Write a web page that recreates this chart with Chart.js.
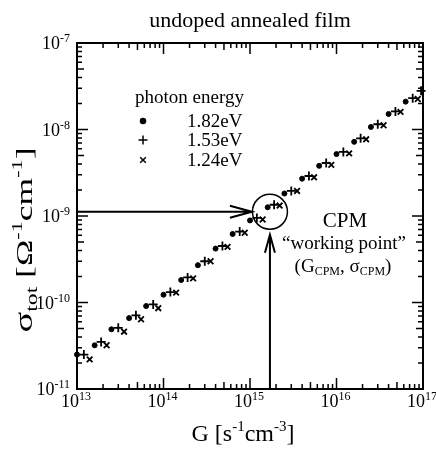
<!DOCTYPE html>
<html>
<head>
<meta charset="utf-8">
<script src="https://cdn.jsdelivr.net/npm/chart.js@4.4.0/dist/chart.umd.min.js"></script>
<style>
html,body{margin:0;padding:0;background:#fff;}
#wrap{width:436px;height:450px;}
</style>
</head>
<body>
<div id="wrap"><canvas id="myChart" width="436" height="450"></canvas></div>
<script>
// photogeneration rate G [s-1cm-3] and conductivity sigma_tot [Ohm-1cm-1], one pair of arrays per photon energy
let g182=[1.0e13,1.6e13,2.5e13,4.0e13,6.3e13,1.0e14,1.6e14,2.5e14,4.0e14,6.3e14,1.0e15,1.6e15,2.5e15,4.0e15,6.3e15,1.0e16,1.6e16,2.5e16,4.0e16,6.3e16];
let s182=[2.5e-11,3.2e-11,4.9e-11,6.6e-11,9.1e-11,1.23e-10,1.82e-10,2.7e-10,4.2e-10,6.2e-10,8.9e-10,1.26e-9,1.82e-9,2.7e-9,3.8e-9,5.2e-9,7.2e-9,1.07e-8,1.51e-8,2.1e-8];

let g153=[1.2e13,1.9e13,3.0e13,4.8e13,7.6e13,1.2e14,1.9e14,3.0e14,4.8e14,7.6e14,1.2e15,1.9e15,3.0e15,4.8e15,7.6e15,1.2e16,1.9e16,3.0e16,4.8e16,7.6e16,9.5e16];
let s153=[2.5e-11,3.5e-11,5.1e-11,7.1e-11,9.5e-11,1.32e-10,1.95e-10,3.0e-10,4.5e-10,6.6e-10,9.5e-10,1.35e-9,1.95e-9,2.9e-9,4.1e-9,5.5e-9,7.9e-9,1.15e-8,1.62e-8,2.3e-8,2.8e-8];

let g124=[1.4e13,2.2e13,3.5e13,5.5e13,8.7e13,1.4e14,2.2e14,3.5e14,5.5e14,8.7e14,1.4e15,2.2e15,3.5e15,5.5e15,8.7e15,1.4e16,2.2e16,3.5e16,5.5e16,8.7e16];
let s124=[2.2e-11,3.2e-11,4.6e-11,6.4e-11,8.6e-11,1.3e-10,1.9e-10,3.0e-10,4.4e-10,6.4e-10,9.1e-10,1.32e-9,1.95e-9,2.8e-9,3.9e-9,5.3e-9,7.7e-9,1.12e-8,1.6e-8,2.25e-8];

let energies=['1.82eV','1.53eV','1.24eV'];
let xTickExp=[13,14,15,16,17];
let yTickExp=[-11,-10,-9,-8,-7];

// CPM working point
let gCPM=1.7e15;
let sCPM=1.12e-9;

function toPoints(gs,ss){
    return gs.map(function(g,i){return {x:g,y:ss[i]};});
}

const SERIF="'Liberation Serif','Times New Roman',serif";

function measureRich(ctx,parts){
    let total=0;
    parts.forEach(function(p){ctx.font=p[1]+'px '+SERIF;total+=ctx.measureText(p[0]).width;});
    return total;
}

// draws a run of text pieces along one baseline, pieces = [text,size,dy]
function drawRich(ctx,parts,x,y,align){
    let total=measureRich(ctx,parts);
    let cx=x;
    if(align=='center') cx=x-total/2;
    if(align=='right') cx=x-total;
    ctx.textAlign='left';
    ctx.textBaseline='alphabetic';
    parts.forEach(function(p){
        ctx.font=p[1]+'px '+SERIF;
        ctx.fillText(p[0],cx,y+(p[2]||0));
        cx+=ctx.measureText(p[0]).width;
    });
}

function pow10(exp){
    return [['10',18,0],[String(exp),12,-7]];
}

let extras={
    id:'extras',
    afterDraw:function(chart){
        let ctx=chart.ctx;
        let a=chart.chartArea;
        let xs=chart.scales.x, ys=chart.scales.y;
        ctx.save();
        ctx.fillStyle='#000';
        ctx.strokeStyle='#000';

        // frame
        ctx.lineWidth=2;
        ctx.strokeRect(a.left,a.top,a.right-a.left,a.bottom-a.top);

        // inward ticks on all four sides
        ctx.lineWidth=1.5;
        for(let i=0;i<xTickExp.length;i++){
            for(let m=1;m<10;m++){
                if(i==xTickExp.length-1 && m>1) break;
                let px=xs.getPixelForValue(m*Math.pow(10,xTickExp[i]));
                let len=(m==1)?11:(m==5?7:5);
                ctx.beginPath();
                ctx.moveTo(px,a.bottom);ctx.lineTo(px,a.bottom-len);
                ctx.moveTo(px,a.top);ctx.lineTo(px,a.top+len);
                ctx.stroke();
            }
        }
        for(let i=0;i<yTickExp.length;i++){
            for(let m=1;m<10;m++){
                if(i==yTickExp.length-1 && m>1) break;
                let py=ys.getPixelForValue(m*Math.pow(10,yTickExp[i]));
                let len=(m==1)?11:(m==5?7:5);
                ctx.beginPath();
                ctx.moveTo(a.left,py);ctx.lineTo(a.left+len,py);
                ctx.moveTo(a.right,py);ctx.lineTo(a.right-len,py);
                ctx.stroke();
            }
        }

        // tick labels
        xTickExp.forEach(function(e){
            drawRich(ctx,pow10(e),xs.getPixelForValue(Math.pow(10,e))-1,407,'center');
        });
        yTickExp.forEach(function(e){
            drawRich(ctx,pow10(e),70,ys.getPixelForValue(Math.pow(10,e))+6,'right');
        });

        // title
        drawRich(ctx,[['undoped annealed film',22,0]],250,27,'center');

        // x axis title
        drawRich(ctx,[['G [s',24,0],['-1',15,-10],['cm',24,0],['-3',15,-10],[']',24,0]],243,441,'center');

        // y axis title (rotated, stretched to the reference length)
        let yTitle=[['\u03c3',26,0],['tot',16,5],[' [\u03a9',24,0],['-1',15,-10],['cm',24,0],['-1',15,-10],[']',24,0]];
        ctx.save();
        ctx.translate(32,240);
        ctx.rotate(-Math.PI/2);
        ctx.scale(185/measureRich(ctx,yTitle),1);
        drawRich(ctx,yTitle,0,0,'center');
        ctx.restore();

        // legend
        drawRich(ctx,[['photon energy',19,0]],135,103,'left');
        let rows=[127,146,166];
        rows.forEach(function(ry,i){
            let ds=chart.data.datasets[i];
            Chart.helpers.drawPoint(ctx,{pointStyle:ds.pointStyle,radius:ds.pointRadius,borderWidth:ds.borderWidth},143,ry-6);
            ctx.fillStyle='#000';
            drawRich(ctx,[[energies[i],19,0]],187,ry,'left');
        });

        // working point marker and arrows
        let wx=xs.getPixelForValue(gCPM), wy=ys.getPixelForValue(sCPM);
        ctx.lineWidth=1.5;
        ctx.beginPath();
        ctx.arc(wx,wy,17.5,0,Math.PI*2);
        ctx.stroke();

        ctx.lineWidth=2;
        let tipX=wx-18;
        ctx.beginPath();
        ctx.moveTo(a.left,wy);ctx.lineTo(tipX,wy);
        ctx.moveTo(tipX-22,wy-6);ctx.lineTo(tipX,wy);ctx.lineTo(tipX-22,wy+6);
        ctx.stroke();

        let tipY=wy+23;
        ctx.beginPath();
        ctx.moveTo(wx,a.bottom);ctx.lineTo(wx,tipY);
        ctx.moveTo(wx-5,tipY+18);ctx.lineTo(wx,tipY);ctx.lineTo(wx+5,tipY+18);
        ctx.stroke();

        // CPM text
        drawRich(ctx,[['CPM',21,0]],345,227,'center');
        drawRich(ctx,[['\u201cworking point\u201d',19,0]],344,249,'center');
        drawRich(ctx,[['(G',19,0],['CPM',12,3],[', \u03c3',19,0],['CPM',12,3],[')',19,0]],343,272,'center');

        ctx.restore();
    }
};

let ctx=document.getElementById('myChart').getContext('2d');
let myChart=new Chart(ctx,{
    type:'scatter',
    data:{
        datasets:[
            {label:energies[0],data:toPoints(g182,s182),pointStyle:'circle',pointRadius:2.5,borderWidth:1,borderColor:'#000',backgroundColor:'#000'},
            {label:energies[1],data:toPoints(g153,s153),pointStyle:'cross',pointRadius:4.5,borderWidth:1.8,borderColor:'#000',backgroundColor:'#000'},
            {label:energies[2],data:toPoints(g124,s124),pointStyle:'crossRot',pointRadius:4,borderWidth:1.8,borderColor:'#000',backgroundColor:'#000'}
        ]
    },
    options:{
        responsive:false,
        animation:false,
        clip:false,
        layout:{padding:{left:77,right:13,top:43,bottom:61}},
        scales:{
            x:{type:'logarithmic',display:false,min:1e13,max:1e17},
            y:{type:'logarithmic',display:false,min:1e-11,max:1e-7}
        },
        plugins:{
            legend:{display:false},
            tooltip:{enabled:false}
        }
    },
    plugins:[extras]
});
</script>
</body>
</html>
